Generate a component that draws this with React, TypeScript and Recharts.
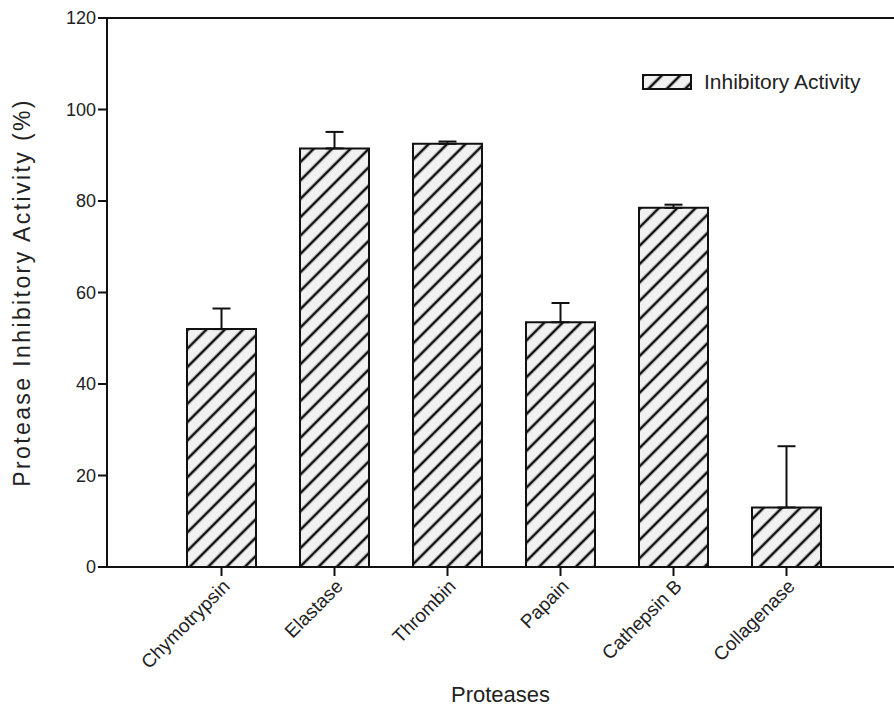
import {
  BarChart,
  Bar,
  XAxis,
  YAxis,
  ErrorBar,
  Legend,
  ReferenceLine,
} from "recharts";

const proteases = ["Chymotrypsin", "Elastase", "Thrombin", "Papain", "Cathepsin B", "Collagenase"];
const inhibition = [52, 91.5, 92.5, 53.5, 78.5, 13];
const upperError = [4.5, 3.6, 0.5, 4.2, 0.7, 13.4];
const yTicks = [0, 20, 40, 60, 80, 100, 120];

const data = proteases.map((name, i) => ({
  name,
  value: inhibition[i],
  err: [0, upperError[i]],
}));

const font = "'Liberation Sans', Arial, sans-serif";

function HatchLegend() {
  return (
    <div style={{ display: "flex", alignItems: "center", fontFamily: font, fontSize: 21, color: "#222" }}>
      <svg width={50} height={16} style={{ marginRight: 12 }}>
        <rect x={1} y={1} width={48} height={14} fill="url(#hatch)" stroke="#111" strokeWidth={2} />
      </svg>
      <span>Inhibitory Activity</span>
    </div>
  );
}

export default function App() {
  return (
    <div style={{ position: "absolute", left: 0, top: 0, background: "#fff" }}>
      <BarChart
        width={894}
        height={707}
        data={data}
        margin={{ top: 18, right: 0, left: 0, bottom: 0 }}
      >
        <defs>
          <pattern
            id="hatch"
            width={13}
            height={13}
            patternUnits="userSpaceOnUse"
            patternTransform="rotate(45)"
          >
            <rect width={13} height={13} fill="#f1f1f1" />
            <line x1={2} y1={0} x2={2} y2={13} stroke="#111" strokeWidth={2.6} />
          </pattern>
        </defs>
        <XAxis
          dataKey="name"
          height={140}
          padding={{ left: 58, right: 51 }}
          stroke="#111"
          strokeWidth={2}
          tickSize={9}
          interval={0}
          angle={-45}
          textAnchor="end"
          tick={{ fill: "#222", fontSize: 19, fontFamily: font }}
          label={{
            value: "Proteases",
            position: "insideBottom",
            offset: 5,
            style: { fill: "#222", fontSize: 22, fontFamily: font },
          }}
        />
        <YAxis
          width={107}
          domain={[0, 120]}
          ticks={yTicks}
          stroke="#111"
          strokeWidth={2}
          tickSize={9}
          tick={{ fill: "#222", fontSize: 18, fontFamily: font }}
          label={{
            value: "Protease Inhibitory Activity (%)",
            angle: -90,
            position: "insideLeft",
            offset: 22,
            textAnchor: "middle",
            style: { fill: "#222", fontSize: 23, fontFamily: font, letterSpacing: 2.4 },
          }}
        />
        <ReferenceLine y={120} stroke="#111" strokeWidth={2} />
        <Legend
          layout="horizontal"
          verticalAlign="middle"
          align="center"
          content={() => <HatchLegend />}
          wrapperStyle={{ top: 70, left: 642, width: 252 }}
        />
        <Bar
          dataKey="value"
          barSize={69}
          fill="url(#hatch)"
          stroke="#111"
          strokeWidth={2}
          isAnimationActive={false}
        >
          <ErrorBar dataKey="err" direction="y" width={9} stroke="#111" strokeWidth={2} />
        </Bar>
      </BarChart>
    </div>
  );
}
